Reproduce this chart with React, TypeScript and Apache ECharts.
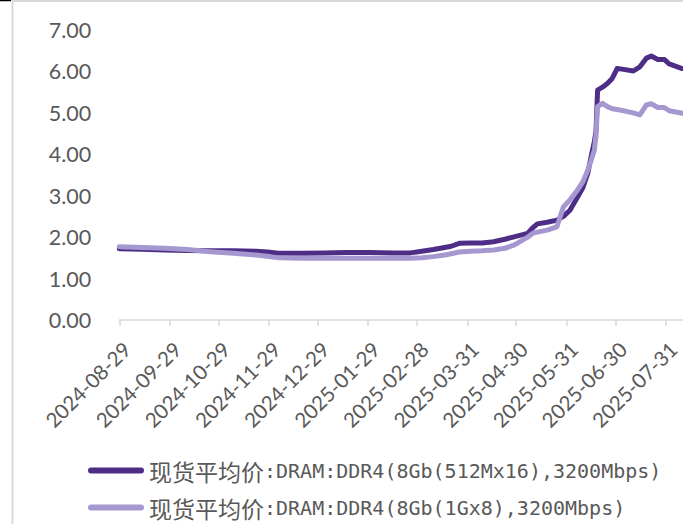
import React, { useEffect, useRef } from 'react';
import * as echarts from 'echarts';

const baseDate = '2024-08-29';
const axisEndDays = 346.5;

const tickLabels = [
  '2024-08-29', '2024-09-29', '2024-10-29', '2024-11-29', '2024-12-29', '2025-01-29',
  '2025-02-28', '2025-03-31', '2025-04-30', '2025-05-31', '2025-06-30', '2025-07-31',
];

const yTickValues = [0, 1, 2, 3, 4, 5, 6, 7];

const seriesNames = [
  '现货平均价:DRAM:DDR4(8Gb(512Mx16),3200Mbps)',
  '现货平均价:DRAM:DDR4(8Gb(1Gx8),3200Mbps)',
];

const dates = [
  '2024-08-29', '2024-09-12', '2024-09-26', '2024-10-10', '2024-10-24', '2024-11-07',
  '2024-11-21', '2024-11-28', '2024-12-05', '2024-12-19', '2025-01-02', '2025-01-16',
  '2025-01-30', '2025-02-13', '2025-02-24', '2025-03-03', '2025-03-10', '2025-03-17',
  '2025-03-21', '2025-03-26', '2025-04-02', '2025-04-09', '2025-04-16', '2025-04-23',
  '2025-04-28', '2025-05-01', '2025-05-07', '2025-05-10', '2025-05-13', '2025-05-19',
  '2025-05-25', '2025-05-29', '2025-06-02', '2025-06-06', '2025-06-10', '2025-06-13',
  '2025-06-15', '2025-06-17', '2025-06-18', '2025-06-19', '2025-06-22', '2025-06-25',
  '2025-06-28', '2025-07-01', '2025-07-05', '2025-07-11', '2025-07-15', '2025-07-19',
  '2025-07-22', '2025-07-26', '2025-07-30', '2025-08-02', '2025-08-10',
];

const ddr4_512Mx16 = [
  1.72, 1.71, 1.69, 1.68, 1.67, 1.67,
  1.66, 1.64, 1.61, 1.61, 1.62, 1.63,
  1.63, 1.62, 1.62, 1.66, 1.70, 1.75,
  1.78, 1.85, 1.86, 1.86, 1.89, 1.95,
  2.00, 2.03, 2.09, 2.22, 2.32, 2.36,
  2.41, 2.50, 2.65, 2.92, 3.20, 3.55,
  3.94, 4.30, 4.55, 5.55, 5.62, 5.71,
  5.83, 6.07, 6.05, 6.01, 6.11, 6.32,
  6.37, 6.29, 6.29, 6.18, 6.07,
];

const ddr4_1Gx8 = [
  1.77, 1.75, 1.73, 1.70, 1.65, 1.61,
  1.57, 1.54, 1.50, 1.49, 1.49, 1.49,
  1.49, 1.49, 1.49, 1.50, 1.53, 1.57,
  1.60, 1.64, 1.66, 1.67, 1.69, 1.73,
  1.80, 1.86, 2.00, 2.09, 2.12, 2.17,
  2.25, 2.73, 2.90, 3.10, 3.34, 3.62,
  3.85, 4.10, 4.45, 5.15, 5.23, 5.15,
  5.10, 5.08, 5.05, 5.00, 4.95, 5.19,
  5.22, 5.13, 5.13, 5.05, 4.99,
];

const DAY = 86400000;
function toUTC(s: string) {
  const [y, m, d] = s.split('-').map(Number);
  return Date.UTC(y, m - 1, d);
}
function dayOffset(s: string) {
  return Math.round((toUTC(s) - toUTC(baseDate)) / DAY);
}

const tickOffsets = tickLabels.map(dayOffset);
const labelByOffset: Record<number, string> = {};
tickOffsets.forEach((o, i) => {
  labelByOffset[o] = tickLabels[i];
});

const DARK = '#4e2d87';
const LIGHT = '#a598d0';
const TEXT = '#595959';
const AXIS = '#d9d9d9';

export default function App() {
  const ref = useRef<HTMLDivElement>(null);

  useEffect(() => {
    document.body.style.margin = '0';
    if (!ref.current) return;
    const chart = echarts.init(ref.current, null, { renderer: 'svg' });
    const mk = (vals: number[]) => dates.map((d, i) => [dayOffset(d), vals[i]]);
    chart.setOption({
      animation: false,
      backgroundColor: '#ffffff',
      grid: {
        left: 119.3,
        right: 0,
        top: 30,
        bottom: 204,
        containLabel: false,
        outerBoundsMode: 'none',
      },
      xAxis: {
        type: 'value',
        min: 0,
        max: axisEndDays,
        interval: 30.5,
        axisLine: { show: true, lineStyle: { color: AXIS, width: 1.5 } },
        axisTick: {
          show: true,
          length: 6,
          lineStyle: { color: AXIS, width: 1.5 },
          customValues: tickOffsets,
        },
        splitLine: { show: false },
        axisLabel: {
          customValues: tickOffsets,
          rotate: 45,
          margin: 18,
          verticalAlign: 'top',
          color: TEXT,
          fontFamily: 'Lato',
          fontSize: 20.5,
          formatter: (v: number) => labelByOffset[Math.round(v)] ?? '',
        },
      },
      yAxis: {
        type: 'value',
        min: yTickValues[0],
        max: yTickValues[yTickValues.length - 1],
        interval: 1,
        axisLine: { show: false },
        axisTick: { show: false },
        splitLine: { show: false },
        axisLabel: {
          margin: 28,
          color: TEXT,
          fontFamily: 'Lato',
          fontSize: 21.5,
          formatter: (v: number) => v.toFixed(2),
        },
      },
      legend: {
        orient: 'vertical',
        left: 83,
        top: 454,
        height: 120,
        itemWidth: 56,
        itemHeight: 6,
        itemGap: 14,
        icon: 'path://M3,0L53,0A3,3,0,0,1,53,6L3,6A3,3,0,0,1,3,0Z',
        data: seriesNames,
        formatter: (name: string) => {
          const i = name.indexOf(':');
          return `{c|${name.slice(0, i)}}{l|${name.slice(i)}}`;
        },
        textStyle: {
          color: TEXT,
          lineHeight: 22,
          rich: {
            c: {
              fontFamily: "'Noto Sans CJK SC'",
              fontSize: 23,
              lineHeight: 22,
              color: TEXT,
            },
            l: {
              fontFamily: "'DejaVu Sans Mono', monospace",
              fontSize: 20,
              lineHeight: 22,
              color: TEXT,
            },
          },
        },
      },
      graphic: [
        { type: 'line', silent: true, shape: { x1: 12.5, y1: 0, x2: 12.5, y2: 524 }, style: { stroke: AXIS, lineWidth: 2 } },
        { type: 'line', silent: true, shape: { x1: 12, y1: 1, x2: 683, y2: 1 }, style: { stroke: AXIS, lineWidth: 2 } },
        { type: 'line', silent: true, shape: { x1: 0, y1: 0.5, x2: 11, y2: 0.5 }, style: { stroke: '#000000', lineWidth: 1.5 } },
      ],
      series: [
        {
          name: seriesNames[0],
          type: 'line',
          data: mk(ddr4_512Mx16),
          showSymbol: false,
          symbol: 'none',
          itemStyle: { color: DARK },
          lineStyle: { color: DARK, width: 5, cap: 'round', join: 'round' },
        },
        {
          name: seriesNames[1],
          type: 'line',
          data: mk(ddr4_1Gx8),
          showSymbol: false,
          symbol: 'none',
          itemStyle: { color: LIGHT },
          lineStyle: { color: LIGHT, width: 5, cap: 'round', join: 'round' },
        },
      ],
    });
    return () => chart.dispose();
  }, []);

  return <div ref={ref} style={{ width: 683, height: 524 }} />;
}
